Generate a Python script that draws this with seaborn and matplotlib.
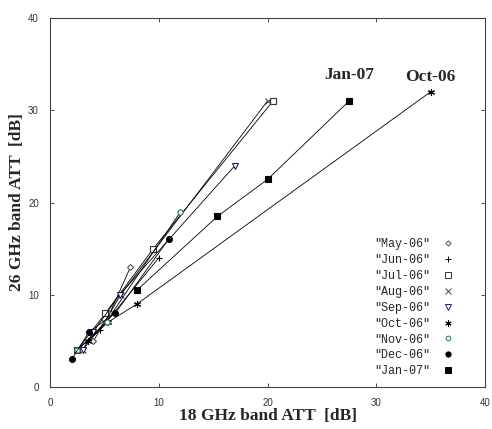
import matplotlib
matplotlib.use("Agg")
import matplotlib.pyplot as plt
import pandas as pd
import seaborn as sns
from matplotlib.lines import Line2D

# values (18 GHz ATT, 26 GHz ATT) per month
months = ["May-06", "Jun-06", "Jul-06", "Aug-06", "Sep-06",
          "Oct-06", "Nov-06", "Dec-06", "Jan-07"]

may_x = [4.0, 5.5, 7.4]
may_y = [5.0, 8.0, 13.0]
jun_x = [2.5, 4.6, 10.0]
jun_y = [4.0, 6.2, 14.0]
jul_x = [2.5, 5.1, 9.5, 20.5]
jul_y = [4.0, 8.0, 15.0, 31.0]
aug_x = [3.0, 5.0, 6.5, 20.0]
aug_y = [4.0, 7.0, 10.0, 31.0]
sep_x = [3.0, 4.0, 6.4, 17.0]
sep_y = [4.0, 6.0, 10.0, 24.0]
oct_x = [3.5, 5.3, 8.0, 35.0]
oct_y = [5.0, 7.0, 9.0, 32.0]
nov_x = [2.5, 5.2, 12.0]
nov_y = [4.0, 7.1, 19.0]
dec_x = [2.0, 3.6, 6.0, 10.9]
dec_y = [3.0, 6.0, 8.0, 16.0]
jan_x = [8.0, 15.4, 20.0, 27.5]
jan_y = [10.5, 18.5, 22.5, 31.0]

series_x = [may_x, jun_x, jul_x, aug_x, sep_x, oct_x, nov_x, dec_x, jan_x]
series_y = [may_y, jun_y, jul_y, aug_y, sep_y, oct_y, nov_y, dec_y, jan_y]

asterisk = (6, 2, 0)
markers = ["D", "+", "s", "x", "v", asterisk, "o", "o", "s"]
msizes = [3.0, 5, 4.2, 4.5, 4.2, 5, 3.8, 4.2, 4.3]
faces = ["white", "black", "white", "black", "white", "black", "white", "black", "black"]
edges = ["#555555", "black", "#333333", "#444444", "#1a1a70", "black", "#207070", "black", "black"]

rows = []
for m, xs, ys in zip(months, series_x, series_y):
    for x, y in zip(xs, ys):
        rows.append({"month": m, "att18": x, "att26": y})
df = pd.DataFrame(rows)

sns.set_style("ticks")
plt.rcParams["font.family"] = ["Liberation Sans", "DejaVu Sans"]

fig = plt.figure(figsize=(4.92, 4.29), dpi=100)
ax = fig.add_axes([0.1016, 0.0979, 0.8842, 0.8601])

for i, m in enumerate(months):
    d = df[df["month"] == m]
    sns.lineplot(data=d, x="att18", y="att26", sort=False, ax=ax,
                 color="black", linewidth=0.6, marker=markers[i],
                 markersize=msizes[i], markerfacecolor=faces[i],
                 markeredgecolor=edges[i], markeredgewidth=0.8)

ax.text(jan_x[-1], jan_y[-1] + 2.0, "Jan-07", ha="center", va="bottom",
        fontsize=12.5, fontweight="bold", family="Liberation Serif")
ax.text(oct_x[-1], oct_y[-1] + 0.7, "Oct-06", ha="center", va="bottom",
        fontsize=12.5, fontweight="bold", family="Liberation Serif")

handles = [Line2D([], [], linestyle="none", marker=markers[i],
                  markersize=msizes[i] * 0.9, markerfacecolor=faces[i],
                  markeredgecolor=edges[i], markeredgewidth=0.7)
           for i in range(len(months))]
labels = ['"%s"' % m for m in months]
ax.legend(handles, labels, loc="upper right", bbox_to_anchor=(0.955, 0.432),
          frameon=False, markerfirst=False, handlelength=1.2,
          handletextpad=0.9, labelspacing=0.33,
          prop={"family": "Liberation Mono", "size": 8.5})

ax.set_xlim(0, 40)
ax.set_ylim(0, 40)
ax.set_xticks([0, 10, 20, 30, 40])
ax.set_yticks([0, 10, 20, 30, 40])
ax.tick_params(direction="in", length=3, width=0.6, labelsize=7,
               top=True, right=True, pad=8, colors="#333333")
for s in ax.spines.values():
    s.set_linewidth(0.8)
    s.set_color("#444444")

ax.set_xlabel("18 GHz band ATT  [dB]", fontsize=12.5, fontweight="bold",
              family="Liberation Serif", labelpad=0)
ax.set_ylabel("26 GHz band ATT  [dB]", fontsize=12.5, fontweight="bold",
              family="Liberation Serif", labelpad=2)

fig.savefig("out.png", dpi=100)
